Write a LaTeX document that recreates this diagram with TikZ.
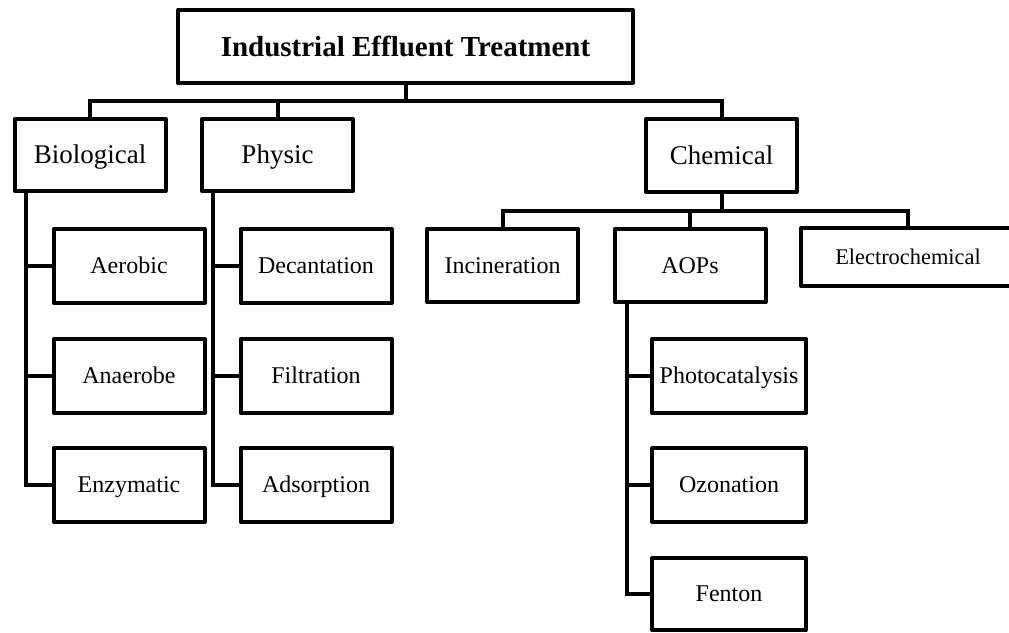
\documentclass[tikz,border=0pt]{standalone}
\usepackage{fontspec}
\setmainfont{Liberation Serif}
\begin{document}
\begin{tikzpicture}[x=1pt,y=-1pt,
  boxbase/.style={draw, line width=4pt, line join=round, inner sep=0pt, text depth=0pt},
  box/.style={boxbase, minimum width=151pt, minimum height=74pt, font=\fontsize{24}{28}\selectfont, text height=15.9pt},
  cat/.style={boxbase, minimum width=151pt, minimum height=72pt, font=\fontsize{27}{32}\selectfont, text height=17.9pt},
  titlebox/.style={boxbase, minimum width=455pt, minimum height=73pt, font=\bfseries\fontsize{29}{34}\selectfont, text height=19.2pt},
  conn/.style={line width=4pt, line join=miter}
]
\useasboundingbox (0,0) rectangle (1009,632);
\fill[white] (0,0) rectangle (1009,632);
\clip (0,0) rectangle (1009,632);

\node[titlebox] (top) at (405.5,46.5) {Industrial Effluent Treatment};
\node[cat] (bio) at (90,155) {Biological};
\node[cat] (phy) at (277.5,155) {Physic};
\node[cat, minimum height=73pt] (chem) at (721.5,155.5) {Chemical};

\node[box] (aer) at (129,266) {Aerobic};
\node[box] (ana) at (129,376) {Anaerobe};
\node[box] (enz) at (129,485) {Enzymatic};
\node[box] (dec) at (316,266) {Decantation};
\node[box] (fil) at (316,376) {Filtration};
\node[box] (ads) at (316,485) {Adsorption};

\node[box, minimum height=73pt] (inc) at (502.5,265.5) {Incineration};
\node[box, minimum height=73pt] (aop) at (690,265.5) {AOPs};
\node[boxbase, minimum width=214pt, minimum height=58pt, font=\fontsize{22.4}{26}\selectfont, text height=14.8pt] (ele) at (908,257) {Electrochemical};

\node[box, minimum width=154pt] (pho) at (729,376) {Photocatalysis};
\node[box, minimum width=154pt] (ozo) at (729,485) {Ozonation};
\node[box, minimum width=154pt, minimum height=72pt] (fen) at (729,594) {Fenton};

% level 1 connectors
\coordinate (j1) at (405.5,101);
\draw[conn] (top.south) -- (j1);
\draw[conn] (bio.north) |- (j1) -| (chem.north);
\draw[conn] (phy.north) -- (phy.north |- j1);

% chemical connectors
\coordinate (j2) at (721.5,211);
\draw[conn] (chem.south) -- (j2);
\draw[conn] (inc.north) |- (j2) -| (ele.north);
\draw[conn] (aop.north) -- (aop.north |- j2);

% biological stem
\coordinate (bs) at ([xshift=13pt]bio.south west);
\draw[conn] (bs) |- (enz.west);
\draw[conn] (aer.west) -- (aer.west -| bs);
\draw[conn] (ana.west) -- (ana.west -| bs);

% physic stem
\coordinate (ps) at ([xshift=13pt]phy.south west);
\draw[conn] (ps) |- (ads.west);
\draw[conn] (dec.west) -- (dec.west -| ps);
\draw[conn] (fil.west) -- (fil.west -| ps);

% AOPs stem
\coordinate (as) at ([xshift=14pt]aop.south west);
\draw[conn] (as) |- (fen.west);
\draw[conn] (pho.west) -- (pho.west -| as);
\draw[conn] (ozo.west) -- (ozo.west -| as);
\end{tikzpicture}
\end{document}
